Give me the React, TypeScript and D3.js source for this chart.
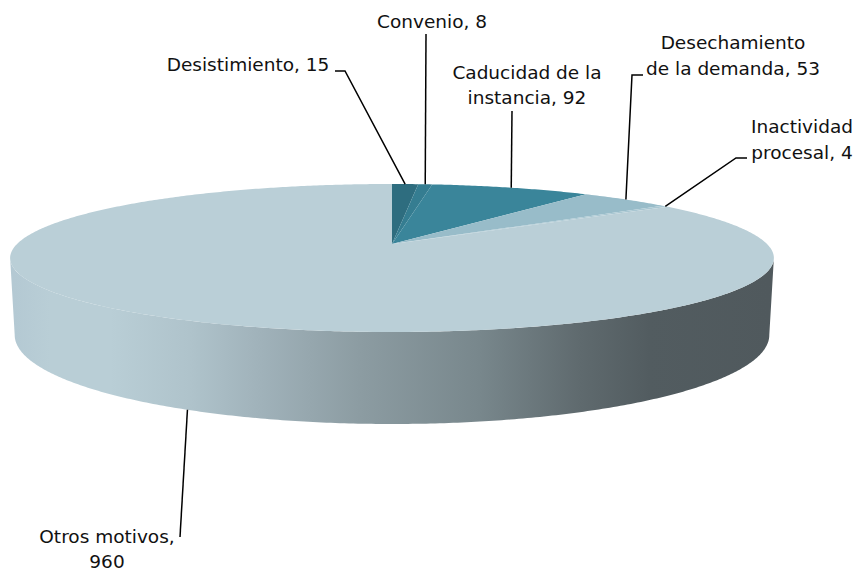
import React from "react";
import * as d3 from "d3";

const categories = ["Desistimiento", "Convenio", "Caducidad de la instancia", "Desechamiento de la demanda", "Inactividad procesal", "Otros motivos"];
const values = [15, 8, 92, 53, 4, 960];
const sliceColors = ["#2e6d7f", "#357d91", "#3a859a", "#98bcc9", "#a9c7d2", "#bacfd7"];
const wallStops: [number, string][] = [
  [15, "#b4c9d3"], [50, "#b9ced6"], [110, "#b9ced6"], [190, "#afc3cb"], [260, "#a0b2ba"],
  [360, "#8c9ca2"], [480, "#78878c"], [580, "#5f6a6e"], [650, "#525c60"], [770, "#50595d"],
];

const FONT = '"DejaVu Sans", Verdana, sans-serif';
const cx = 392, cy = 244, R = 375, H = 71.35, K = 0.189;
const BR = 370.5, BH = 85.8, BY = 318.2;

const project = (a: number, rr = R, hh = H, y0 = cy): [number, number] => {
  const w = 1 + K * Math.cos(a);
  return [cx + (rr * Math.sin(a)) / w, y0 - (hh * Math.cos(a)) / w];
};
const line = d3.line();
const sweep = (a0: number, a1: number, step = 0.01) => {
  const n = Math.max(2, Math.ceil(Math.abs(a1 - a0) / step));
  return d3.range(n + 1).map((i) => a0 + ((a1 - a0) * i) / n);
};

const arcs = d3.pie<number>().sort(null)(values);
const silhouette = Math.acos(-K);
const wallPts = [
  ...sweep(silhouette, 2 * Math.PI - silhouette).map((a) => project(a)),
  ...sweep(2 * Math.PI - silhouette, silhouette).map((a) => project(a, BR, BH, BY)),
];

type Lbl = { lines: string[]; x: number; y: number; gap: number; knee: [number, number][]; bottom?: boolean };
const labels: Lbl[] = [
  { lines: ["Desistimiento, 15"], x: 248, y: 71, gap: 25, knee: [[335, 71], [345, 71]] },
  { lines: ["Convenio, 8"], x: 432, y: 28, gap: 25, knee: [[426, 34]] },
  { lines: ["Caducidad de la", "instancia, 92"], x: 527, y: 79, gap: 25, knee: [[512, 111]] },
  { lines: ["Desechamiento", "de la demanda, 53"], x: 733, y: 49, gap: 26, knee: [[643, 75], [632, 75]] },
  { lines: ["Inactividad", "procesal, 4"], x: 802, y: 133, gap: 26, knee: [[747, 158], [736, 158]] },
  { lines: ["Otros motivos,", "960"], x: 107, y: 543, gap: 25, knee: [[180, 537]], bottom: true },
];

export default function App() {
  return (
    <svg width={859} height={571} style={{ position: "absolute", left: 0, top: 0, display: "block" }}>
      <defs>
        <linearGradient id="wall" gradientUnits="userSpaceOnUse" x1={0} x2={859} y1={0} y2={0}>
          {wallStops.map(([x, c]) => (
            <stop key={x} offset={x / 859} stopColor={c} />
          ))}
        </linearGradient>
      </defs>
      <rect width={859} height={571} fill="#fff" />
      <path d={line(wallPts) + "Z"} fill="url(#wall)" />
      {arcs.map((d, i) => (
        <path
          key={categories[i]}
          d={line([[cx, cy] as [number, number], ...sweep(d.startAngle, d.endAngle).map((a) => project(a))]) + "Z"}
          fill={sliceColors[i]}
        />
      ))}
      {labels.map((l, i) => {
        const mid = (arcs[i].startAngle + arcs[i].endAngle) / 2;
        const end = l.bottom ? project(mid, BR, BH, BY) : project(mid);
        return (
          <path key={l.lines[0]} d={line([...l.knee, end]) ?? ""} fill="none" stroke="#000" strokeWidth={1.5} />
        );
      })}
      {labels.map((l) => (
        <text key={l.lines[0]} fontFamily={FONT} fontSize={18.5} fill="#111" textAnchor="middle">
          {l.lines.map((t, j) => (
            <tspan key={t} x={l.x} y={l.y + j * l.gap}>{t}</tspan>
          ))}
        </text>
      ))}
    </svg>
  );
}
